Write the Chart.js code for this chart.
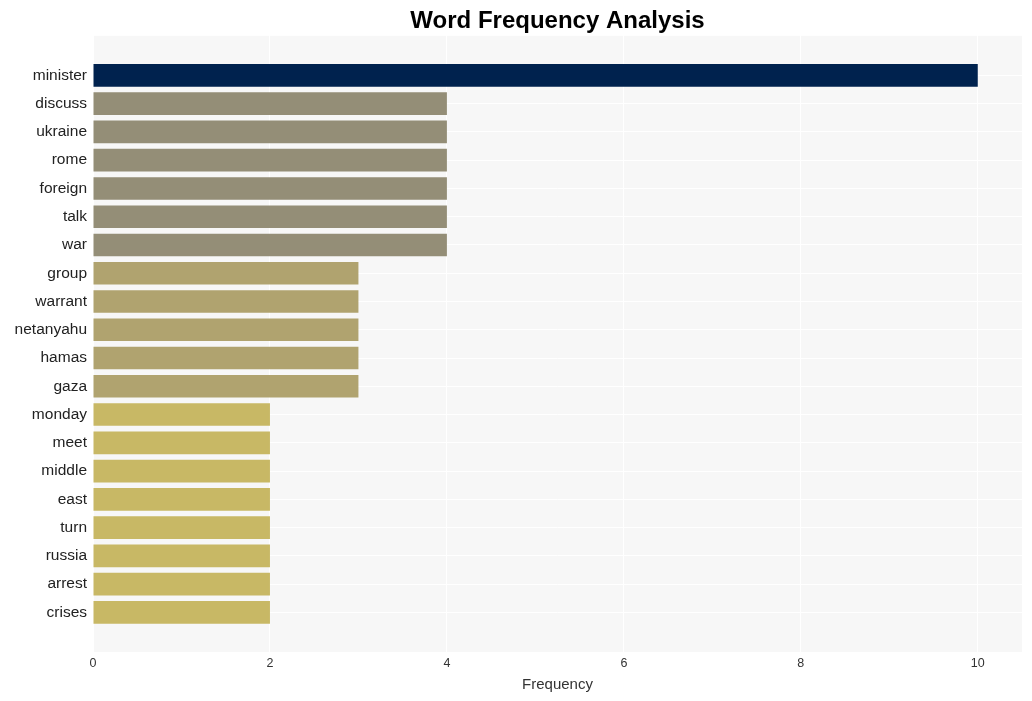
<!DOCTYPE html>
<html>
<head>
<meta charset="utf-8">
<script src="https://cdn.jsdelivr.net/npm/chart.js@4"></script>
<style>
  html, body { margin: 0; padding: 0; background: #ffffff; }
  #wrap { width: 1032px; height: 701px; }
</style>
</head>
<body>
<div id="wrap"><canvas id="chart" width="1032" height="701"></canvas></div>
<script>
// ==================================================
// DATA
// ==================================================
const words = ["minister", "discuss", "ukraine", "rome", "foreign", "talk", "war",
    "group", "warrant", "netanyahu", "hamas", "gaza",
    "monday", "meet", "middle", "east", "turn", "russia", "arrest", "crises"];
const counts = [10, 4, 4, 4, 4, 4, 4, 3, 3, 3, 3, 3, 2, 2, 2, 2, 2, 2, 2, 2];
const xTicks = [0, 2, 4, 6, 8, 10];

// colour by frequency level
const levelColors = { 10: "#00224e", 4: "#948e77", 3: "#b0a36f", 2: "#c8b865" };

// ==================================================
// PLOT BACKGROUND
// ==================================================
const plotBg = {
    id: "plotBg",
    beforeDraw(chart) {
        const { ctx, chartArea: a } = chart;
        ctx.save();
        ctx.fillStyle = "#f7f7f7";
        ctx.fillRect(a.left, a.top, a.right - a.left, a.bottom - a.top);
        ctx.restore();
    }
};

const points = words.map((w, i) => ({ x: counts[i], y: i }));

new Chart(document.getElementById("chart"), {
    type: "bar",
    data: {
        datasets: [{
            data: points,
            backgroundColor: counts.map(c => levelColors[c]),
            barPercentage: 0.8,
            categoryPercentage: 1.0,
            borderWidth: 0
        }]
    },
    options: {
        indexAxis: "y",
        responsive: false,
        animation: false,
        layout: { padding: { left: 0, right: 10, top: 0, bottom: 0 } },
        plugins: {
            legend: { display: false },
            tooltip: { enabled: false },
            title: {
                display: true,
                text: "Word Frequency Analysis",
                fullSize: false,
                color: "#000000",
                font: { family: "Liberation Sans, Arial", size: 24, weight: "bold" },
                padding: { top: 7, bottom: 0 }
            }
        },
        scales: {
            x: {
                type: "linear",
                min: 0,
                max: 10.5,
                afterBuildTicks: s => { s.ticks = xTicks.map(v => ({ value: v })); },
                afterFit: s => { s.height = 49; },
                grid: { color: "#ffffff", lineWidth: 1, drawTicks: false },
                border: { display: false },
                ticks: {
                    color: "#333333",
                    padding: 4,
                    font: { family: "Liberation Sans, Arial", size: 12.5 }
                },
                title: {
                    display: true,
                    text: "Frequency",
                    color: "#333333",
                    padding: { top: 0, bottom: 7 },
                    font: { family: "Liberation Sans, Arial", size: 15 }
                }
            },
            y: {
                type: "linear",
                reverse: true,
                offset: false,
                min: -1.4,
                max: words.length - 1 + 1.4,
                afterBuildTicks: s => { s.ticks = words.map((w, i) => ({ value: i })); },
                afterFit: s => { s.width = 93; },
                grid: { color: "#ffffff", lineWidth: 1, drawTicks: false, offset: false },
                border: { display: false },
                ticks: {
                    color: "#222222",
                    padding: 6,
                    autoSkip: false,
                    callback: v => words[v],
                    font: { family: "Liberation Sans, Arial", size: 15.5 }
                }
            }
        }
    },
    plugins: [plotBg]
});
</script>
</body>
</html>
